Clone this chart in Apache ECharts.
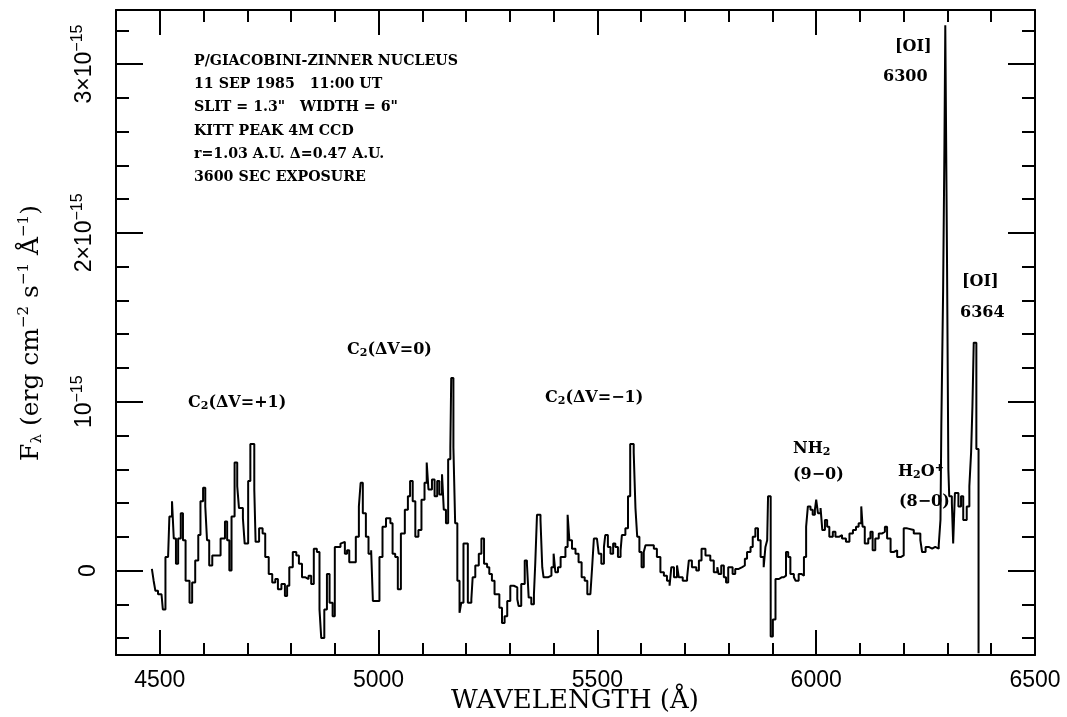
<!DOCTYPE html>
<html>
<head>
<meta charset="utf-8">
<script src="https://cdn.jsdelivr.net/npm/echarts@6/dist/echarts.min.js"></script>
<style>
  html, body { margin: 0; padding: 0; background: #fff; }
  #chart { width: 1067px; height: 717px; }
</style>
</head>
<body>
<div id="chart"></div>
<script>
// wavelength (Angstrom) where each step of the spectrum starts
const wavelength = [
  4482, 4486, 4490, 4496, 4504, 4507, 4513, 4519, 4522, 4528, 4532, 4537, 4542, 4548, 4553,
  4559, 4568, 4574, 4581, 4588, 4593, 4599, 4604, 4608, 4613, 4620, 4639, 4649, 4654, 4659,
  4664, 4671, 4677, 4681, 4690, 4694, 4702, 4707, 4716, 4719, 4727, 4735, 4741, 4749, 4757,
  4764, 4770, 4778, 4786, 4791, 4796, 4804, 4812, 4818, 4825, 4833, 4840, 4846, 4852, 4859,
  4865, 4869, 4876, 4882, 4888, 4895, 4900, 4913, 4917, 4923, 4928, 4933, 4948, 4955, 4959,
  4964, 4971, 4977, 4983, 4987, 5002, 5009, 5017, 5027, 5032, 5038, 5044, 5051, 5060, 5067,
  5072, 5078, 5084, 5091, 5098, 5105, 5110, 5114, 5122, 5128, 5134, 5139, 5145, 5149, 5154,
  5159, 5164, 5166, 5171, 5175, 5180, 5185, 5189, 5194, 5204, 5212, 5215, 5221, 5229, 5235,
  5241, 5248, 5253, 5259, 5265, 5276, 5282, 5288, 5294, 5301, 5309, 5317, 5320, 5326, 5334,
  5339, 5343, 5349, 5355, 5358, 5362, 5370, 5374, 5377, 5387, 5395, 5400, 5404, 5410, 5416,
  5427, 5432, 5436, 5442, 5450, 5457, 5464, 5471, 5477, 5484, 5488, 5492, 5499, 5503, 5509,
  5515, 5518, 5524, 5530, 5536, 5541, 5547, 5553, 5556, 5564, 5570, 5575, 5583, 5587, 5591,
  5596, 5601, 5606, 5610, 5629, 5636, 5644, 5652, 5659, 5665, 5669, 5675, 5682, 5686, 5695,
  5705, 5709, 5716, 5726, 5732, 5738, 5747, 5758, 5766, 5774, 5777, 5783, 5789, 5794, 5799,
  5809, 5815, 5823, 5831, 5837, 5842, 5850, 5855, 5861, 5867, 5873, 5880, 5884, 5888, 5890,
  5896, 5901, 5907, 5915, 5921, 5926, 5931, 5936, 5941, 5949, 5953, 5960, 5966, 5972, 5977,
  5981, 5987, 5992, 5997, 6000, 6004, 6010, 6014, 6020, 6025, 6030, 6038, 6044, 6052, 6059,
  6068, 6076, 6084, 6091, 6097, 6103, 6106, 6111, 6119, 6124, 6129, 6135, 6143, 6151, 6157,
  6162, 6170, 6177, 6185, 6193, 6200, 6208, 6223, 6238, 6242, 6250, 6257, 6265, 6272, 6280,
  6284, 6286, 6290, 6293, 6295, 6299, 6302, 6304, 6310, 6313, 6317, 6325, 6331, 6336, 6344,
  6350, 6354, 6357, 6360, 6366, 6371
];

// flux in units of 1e-15 erg cm^-2 s^-1 A^-1
const flux = [
  0.01, -0.06, -0.12, -0.14, -0.13, -0.23, 0.08, 0.09, 0.32, 0.41, 0.19, 0.04, 0.19, 0.34, 0.18,
  -0.06, -0.19, -0.07, 0.06, 0.21, 0.41, 0.49, 0.38, 0.18, 0.03, 0.09, 0.19, 0.29, 0.18, 0.00,
  0.32, 0.64, 0.50, 0.37, 0.31, 0.16, 0.53, 0.75, 0.48, 0.17, 0.25, 0.22, 0.08, -0.02, -0.07,
  -0.05, -0.11, -0.08, -0.15, -0.09, 0.02, 0.11, 0.09, 0.04, -0.04, -0.05, -0.03, -0.08, 0.13, 0.11,
  -0.23, -0.40, -0.23, -0.02, -0.19, -0.27, 0.14, 0.16, 0.17, 0.10, 0.12, 0.05, 0.20, 0.38, 0.52,
  0.34, 0.20, 0.10, 0.12, -0.18, 0.08, 0.26, 0.31, 0.28, 0.10, 0.08, -0.11, 0.22, 0.36, 0.44,
  0.53, 0.41, 0.20, 0.24, 0.42, 0.52, 0.64, 0.48, 0.54, 0.44, 0.53, 0.45, 0.57, 0.36, 0.28,
  0.66, 0.73, 1.14, 0.73, 0.28, -0.06, -0.25, -0.19, 0.16, -0.19, -0.17, -0.04, 0.03, 0.10, 0.19,
  0.04, 0.02, -0.02, -0.06, -0.14, -0.22, -0.31, -0.27, -0.18, -0.09, -0.10, -0.17, -0.21, -0.08, 0.06,
  0.04, -0.16, -0.20, -0.14, 0.04, 0.33, 0.30, 0.02, -0.04, -0.03, 0.02, 0.10, -0.01, 0.02, 0.08,
  0.14, 0.33, 0.18, 0.13, 0.10, 0.05, -0.04, -0.06, -0.14, -0.15, 0.02, 0.19, 0.20, 0.10, 0.04,
  0.14, 0.21, 0.14, 0.10, 0.16, 0.14, 0.08, 0.12, 0.21, 0.25, 0.44, 0.75, 0.70, 0.37, 0.20,
  0.11, 0.02, 0.11, 0.15, 0.13, 0.08, -0.01, -0.03, -0.06, -0.09, 0.02, -0.04, 0.03, -0.04, -0.06,
  -0.04, 0.06, 0.02, 0.00, 0.06, 0.13, 0.09, 0.06, -0.01, 0.02, -0.02, 0.03, -0.04, -0.07, 0.02,
  -0.02, 0.01, 0.02, 0.03, 0.07, 0.11, 0.14, 0.20, 0.25, 0.18, 0.08, 0.02, 0.14, 0.18, 0.44,
  -0.39, -0.29, -0.05, -0.04, -0.04, -0.03, 0.11, 0.08, -0.02, -0.04, -0.06, -0.02, -0.03, 0.08, 0.26,
  0.38, 0.36, 0.33, 0.36, 0.42, 0.34, 0.37, 0.24, 0.30, 0.26, 0.20, 0.23, 0.20, 0.21, 0.19,
  0.17, 0.22, 0.24, 0.26, 0.28, 0.38, 0.26, 0.16, 0.19, 0.23, 0.12, 0.19, 0.22, 0.23, 0.26,
  0.19, 0.11, 0.12, 0.08, 0.09, 0.25, 0.24, 0.22, 0.18, 0.11, 0.14, 0.13, 0.14, 0.13, 0.15,
  0.30, 0.87, 1.65, 2.50, 3.23, 1.82, 0.60, 0.44, 0.40, 0.16, 0.46, 0.38, 0.44, 0.30, 0.38,
  0.50, 0.70, 0.97, 1.35, 0.72, -0.49
];

// axes
const xMin = 4400, xMax = 6500;
const yMin = -0.5, yMax = 3.32;
const xMajorTicks = [4500, 5000, 5500, 6000, 6500];
const xMinorTicks = [4500, 4600, 4700, 4800, 4900, 5000, 5100, 5200, 5300, 5400, 5500, 5600, 5700,
  5800, 5900, 6000, 6100, 6200, 6300, 6400];
const yMajorTicks = [0, 1, 2, 3];
const yTickLabels = ['0', '10^−15', '2×10^−15', '3×10^−15'];
const yMinorTicks = [-0.4, -0.2, 0.2, 0.4, 0.6, 0.8, 1.2, 1.4, 1.6, 1.8, 2.2, 2.4, 2.6, 2.8, 3.2];

const infoLines = [
  'P/GIACOBINI-ZINNER NUCLEUS',
  '11 SEP 1985   11:00 UT',
  'SLIT = 1.3"   WIDTH = 6"',
  'KITT PEAK 4M CCD',
  'r=1.03 A.U. Δ=0.47 A.U.',
  '3600 SEC EXPOSURE'
];

const SANS = '"Liberation Sans", Arial, sans-serif';
const SERIF = '"DejaVu Serif", serif';

function xAxisDef(position, ticks, len, withLine, withLabel) {
  return {
    type: 'value',
    position: position,
    min: xMin,
    max: xMax,
    splitNumber: ticks.length > 6 ? 21 : 4,
    axisLine: { show: withLine, onZero: false, lineStyle: { color: '#000', width: 2 } },
    axisTick: { show: true, inside: true, length: len, customValues: ticks, lineStyle: { color: '#000', width: 2 } },
    axisLabel: withLabel
      ? {
          show: true, customValues: xMajorTicks, color: '#000', fontFamily: SANS, fontSize: 23, margin: 14,
          formatter: function (v) { return String(v); }
        }
      : { show: false },
    splitLine: { show: false }
  };
}

function yAxisDef(position, ticks, len, withLine, withLabel) {
  return {
    type: 'value',
    position: position,
    min: yMin,
    max: yMax,
    splitNumber: ticks.length > 6 ? 19 : 4,
    axisLine: { show: withLine, onZero: false, lineStyle: { color: '#000', width: 2 } },
    axisTick: { show: true, inside: true, length: len, customValues: ticks, lineStyle: { color: '#000', width: 2 } },
    axisLabel: withLabel
      ? {
          show: true,
          customValues: yMajorTicks,
          rotate: 90,
          margin: 16,
          color: '#000',
          formatter: function (v) {
            const i = yMajorTicks.indexOf(Math.round(v));
            const parts = yTickLabels[i].split('^');
            return parts.length > 1 ? '{n|' + parts[0] + '}{s|' + parts[1] + '}' : '{n|' + parts[0] + '}';
          },
          rich: {
            n: { fontFamily: SANS, fontSize: 23, color: '#000' },
            s: { fontFamily: SANS, fontSize: 16, color: '#000', padding: [0, 0, 14, 0] }
          }
        }
      : { show: false },
    splitLine: { show: false }
  };
}

const graphics = [];
infoLines.forEach(function (t, i) {
  graphics.push({
    type: 'text', x: 194, y: 61 + i * 23.3,
    style: { text: t, fill: '#000', font: 'bold 14.2px ' + SERIF, align: 'left', verticalAlign: 'middle' }
  });
});

const labelRich = {
  t: { fontFamily: SERIF, fontWeight: 'bold', fontSize: 16, color: '#000' },
  sb: { fontFamily: SERIF, fontWeight: 'bold', fontSize: 11, color: '#000', padding: [6, 0, 0, 0] },
  sp: { fontFamily: SERIF, fontWeight: 'bold', fontSize: 11, color: '#000', padding: [0, 0, 8, 0] }
};
function addLabel(text, x, y) {
  graphics.push({
    type: 'text', x: x, y: y,
    style: { text: text, rich: labelRich, fill: '#000', align: 'left', verticalAlign: 'middle' }
  });
}
addLabel('{t|C}{sb|2}{t|(ΔV=+1)}', 188, 403);
addLabel('{t|C}{sb|2}{t|(ΔV=0)}', 347, 350);
addLabel('{t|C}{sb|2}{t|(ΔV=−1)}', 545, 398);
addLabel('{t|NH}{sb|2}', 793, 449);
addLabel('{t|(9−0)}', 793, 475);
addLabel('{t|H}{sb|2}{t|O}{sp|+}', 898, 472);
addLabel('{t|(8−0)}', 899, 502);
addLabel('{t|[OI]}', 895, 47);
addLabel('{t|6300}', 883, 77);
addLabel('{t|[OI]}', 962, 282);
addLabel('{t|6364}', 960, 313);

// axis titles
graphics.push({
  type: 'text', x: 575, y: 701,
  style: { text: 'WAVELENGTH (Å)', fill: '#000', font: '26px ' + SERIF, align: 'center', verticalAlign: 'middle' }
});
graphics.push({
  type: 'text', x: 31, y: 333, rotation: Math.PI / 2,
  style: {
    text: '{t|F}{sb|λ}{t| (erg cm}{sp|−2}{t| s}{sp|−1}{t| Å}{sp|−1}{t|)}',
    align: 'center', verticalAlign: 'middle',
    rich: {
      t: { fontFamily: SERIF, fontSize: 25, color: '#000' },
      sb: { fontFamily: SERIF, fontSize: 15, color: '#000', padding: [12, 0, 0, 0] },
      sp: { fontFamily: SERIF, fontSize: 15, color: '#000', padding: [0, 0, 14, 0] }
    }
  }
});

const chart = echarts.init(document.getElementById('chart'), null, { renderer: 'canvas' });
chart.setOption({
  animation: false,
  backgroundColor: '#fff',
  grid: { left: 116, right: 32, top: 10, bottom: 62, containLabel: false },
  xAxis: [
    xAxisDef('bottom', xMajorTicks, 25, true, true),
    xAxisDef('bottom', xMinorTicks, 12, false, false),
    xAxisDef('top', xMajorTicks, 25, true, false),
    xAxisDef('top', xMinorTicks, 12, false, false)
  ],
  yAxis: [
    yAxisDef('left', yMajorTicks, 27, true, true),
    yAxisDef('left', yMinorTicks, 13, false, false),
    yAxisDef('right', yMajorTicks, 27, true, false),
    yAxisDef('right', yMinorTicks, 13, false, false)
  ],
  series: [{
    type: 'line',
    xAxisIndex: 0,
    yAxisIndex: 0,
    step: 'end',
    symbol: 'none',
    data: wavelength.map(function (w, i) { return [w, flux[i]]; }),
    lineStyle: { color: '#000', width: 2 }
  }],
  graphic: graphics
});
</script>
</body>
</html>
